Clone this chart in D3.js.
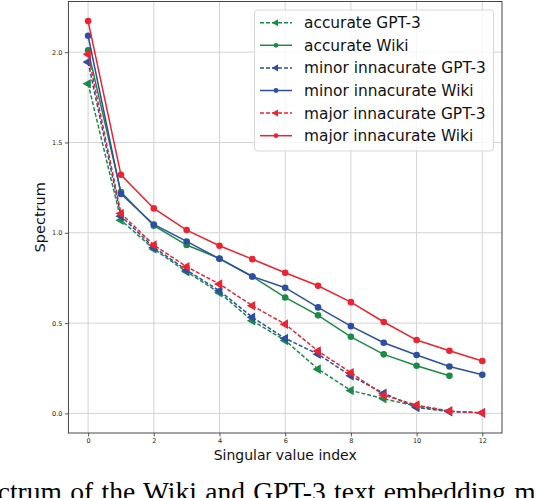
<!DOCTYPE html>
<html>
<head>
<meta charset="utf-8">
<script src="https://cdn.jsdelivr.net/npm/d3@7"></script>
<style>
  html, body { margin: 0; padding: 0; background: #fff; overflow: hidden; }
  svg { display: block; }
</style>
</head>
<body>
<svg id="chart" width="536" height="498"></svg>
<script>
// ---------- data ----------
const seriesNames = [
  "accurate GPT-3", "accurate Wiki",
  "minor innacurate GPT-3", "minor innacurate Wiki",
  "major innacurate GPT-3", "major innacurate Wiki"
];
const accurateGPT3 = [1.825, 1.070, 0.910, 0.784, 0.668, 0.513, 0.404, 0.245, 0.127, 0.081, 0.040, 0.012];
const accurateWiki = [2.010, 1.225, 1.039, 0.932, 0.858, 0.758, 0.642, 0.543, 0.424, 0.327, 0.264, 0.208];
const minorGPT3    = [1.945, 1.092, 0.919, 0.793, 0.679, 0.532, 0.415, 0.328, 0.208, 0.111, 0.033, 0.010, 0.003];
const minorWiki    = [2.091, 1.215, 1.046, 0.952, 0.856, 0.758, 0.696, 0.587, 0.483, 0.391, 0.323, 0.260, 0.214];
const majorGPT3    = [1.988, 1.107, 0.932, 0.812, 0.716, 0.596, 0.494, 0.345, 0.225, 0.101, 0.046, 0.013, 0.003];
const majorWiki    = [2.172, 1.321, 1.135, 1.015, 0.928, 0.854, 0.779, 0.707, 0.616, 0.506, 0.406, 0.347, 0.290];
const xTicks = [0, 2, 4, 6, 8, 10, 12];
const yTicks = [0.0, 0.5, 1.0, 1.5, 2.0];
const xLabel = "Singular value index";
const yLabel = "Spectrum";
const caption = "Spectrum of the Wiki and GPT-3 text embedding matrices";

const colors = { green: "#1c8a47", blue: "#2c4fa3", red: "#ec2330" };
const series = [
  { name: seriesNames[0], values: accurateGPT3, color: colors.green, dashed: true },
  { name: seriesNames[1], values: accurateWiki, color: colors.green, dashed: false },
  { name: seriesNames[2], values: minorGPT3,    color: colors.blue,  dashed: true },
  { name: seriesNames[3], values: minorWiki,    color: colors.blue,  dashed: false },
  { name: seriesNames[4], values: majorGPT3,    color: colors.red,   dashed: true },
  { name: seriesNames[5], values: majorWiki,    color: colors.red,   dashed: false }
];

// ---------- layout ----------
const svg = d3.select("#chart");
const plot = { left: 68.4, right: 502, top: 1.5, bottom: 433 };
const x = d3.scaleLinear().domain([-0.6, 12.6]).range([plot.left, plot.right]);
const y = d3.scaleLinear().domain([-0.1085, 2.2805]).range([plot.bottom, plot.top]);
const font = "DejaVu Sans, sans-serif";

// grid
const grid = svg.append("g");
grid.selectAll("line.gx").data(xTicks).join("line")
  .attr("x1", d => x(d)).attr("x2", d => x(d))
  .attr("y1", plot.top).attr("y2", plot.bottom)
  .attr("stroke", "#d3d3d3").attr("stroke-width", 1);
grid.selectAll("line.gy").data(yTicks).join("line")
  .attr("y1", d => y(d)).attr("y2", d => y(d))
  .attr("x1", plot.left).attr("x2", plot.right)
  .attr("stroke", "#d3d3d3").attr("stroke-width", 1);

// axes
const xAxis = d3.axisBottom(x).tickValues(xTicks).tickSize(3.5).tickPadding(2).tickFormat(d3.format("d"));
const yAxis = d3.axisLeft(y).tickValues(yTicks).tickSize(3.5).tickPadding(2.5).tickFormat(d3.format(".1f"));
const gx = svg.append("g").attr("transform", `translate(0,${plot.bottom})`).call(xAxis);
const gy = svg.append("g").attr("transform", `translate(${plot.left},0)`).call(yAxis);
[gx, gy].forEach(g => {
  g.select(".domain").remove();
  g.selectAll(".tick line").attr("stroke", "#333").attr("stroke-width", 0.8);
  g.selectAll(".tick text").attr("fill", "#222").style("font-family", font).style("font-size", "6.5px");
});

// lines
const line = d3.line().x((d, i) => x(i)).y(d => y(d));
const tri = d3.symbol().type(d3.symbolTriangle).size(40);
series.forEach(s => {
  const g = svg.append("g");
  g.append("path").datum(s.values)
    .attr("d", line).attr("fill", "none")
    .attr("stroke", s.color).attr("stroke-width", 1.5)
    .attr("stroke-dasharray", s.dashed ? "4,2" : null);
  if (s.dashed) {
    g.selectAll("path.m").data(s.values).join("path")
      .attr("d", tri)
      .attr("transform", (d, i) => `translate(${x(i)},${y(d)}) rotate(-90)`)
      .attr("fill", s.color);
  } else {
    g.selectAll("circle").data(s.values).join("circle")
      .attr("cx", (d, i) => x(i)).attr("cy", d => y(d)).attr("r", 3.3)
      .attr("fill", s.color);
  }
});

// frame
svg.append("rect")
  .attr("x", plot.left).attr("y", plot.top)
  .attr("width", plot.right - plot.left).attr("height", plot.bottom - plot.top)
  .attr("fill", "none").attr("stroke", "#333").attr("stroke-width", 0.9);

// labels
svg.append("text")
  .attr("x", (plot.left + plot.right) / 2).attr("y", 460)
  .attr("text-anchor", "middle")
  .style("font-family", font).style("font-size", "14px").attr("fill", "#111")
  .text(xLabel);
svg.append("text")
  .attr("transform", `translate(45,${(plot.top + plot.bottom) / 2}) rotate(-90)`)
  .attr("text-anchor", "middle")
  .style("font-family", font).style("font-size", "14.5px").attr("fill", "#111")
  .text(yLabel);

// legend
const leg = svg.append("g");
leg.append("rect")
  .attr("x", 254.5).attr("y", 10).attr("width", 239).attr("height", 141)
  .attr("rx", 3).attr("fill", "#fff").attr("fill-opacity", 0.8)
  .attr("stroke", "#d8d8d8").attr("stroke-width", 1);
const rowY = i => 22.7 + i * 22.6;
series.forEach((s, i) => {
  const yy = rowY(i);
  leg.append("line").attr("x1", 260).attr("x2", 292).attr("y1", yy).attr("y2", yy)
    .attr("stroke", s.color).attr("stroke-width", 1.5)
    .attr("stroke-dasharray", s.dashed ? "4,2" : null);
  if (s.dashed) {
    leg.append("path").attr("d", d3.symbol().type(d3.symbolTriangle).size(22))
      .attr("transform", `translate(276,${yy}) rotate(-90)`).attr("fill", s.color);
  } else {
    leg.append("circle").attr("cx", 276).attr("cy", yy).attr("r", 2.4).attr("fill", s.color);
  }
  leg.append("text").attr("x", 304).attr("y", yy).attr("dy", "0.36em")
    .style("font-family", font).style("font-size", "15.4px").attr("fill", "#111")
    .text(s.name);
});

// caption (partially outside the window, as in the reference)
const cap = svg.append("text")
  .attr("y", 501)
  .style("font-family", "Liberation Serif, Times New Roman, serif").style("font-size", "27.5px")
  .style("word-spacing", "1.5px")
  .attr("fill", "#000")
  .text(caption);
const wikiOffset = cap.node().getSubStringLength(0, caption.indexOf("Wiki"));
cap.attr("x", 143 - wikiOffset);
</script>
</body>
</html>
